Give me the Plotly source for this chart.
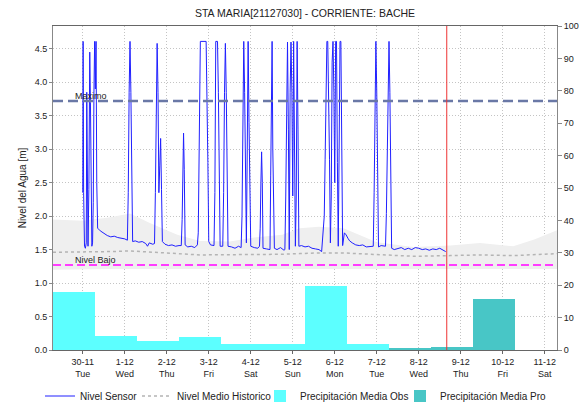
import pandas as pd
import plotly.graph_objects as go

# ---------------- data ----------------
title_text = "STA MARIA[21127030] - CORRIENTE: BACHE"
start_ref = "2021-11-30 00:00"          # origin of the sensor hours
x_range = ["2021-11-29 07:00", "2021-12-11 07:00"]
now_time = "2021-12-08 16:00"

tick_days = ["2021-11-30", "2021-12-01", "2021-12-02", "2021-12-03", "2021-12-04", "2021-12-05",
             "2021-12-06", "2021-12-07", "2021-12-08", "2021-12-09", "2021-12-10", "2021-12-11"]
tick_text = ["30-11<br>Tue", "1-12<br>Wed", "2-12<br>Thu", "3-12<br>Fri", "4-12<br>Sat", "5-12<br>Sun",
             "6-12<br>Mon", "7-12<br>Tue", "8-12<br>Wed", "9-12<br>Thu", "10-12<br>Fri", "11-12<br>Sat"]

# Nivel sensor (hours after 30-11 00:00, metres)
sensor_hours = [0.0, 0.2, 0.5, 1.0, 1.5, 2.0, 2.3, 2.7, 3.0, 3.5, 4.0, 4.4, 4.8, 5.2, 5.6, 6.0, 6.4, 6.8, 7.2, 7.6,
                8.0, 8.5, 10, 12, 14, 16, 18, 20, 22, 24, 25.5, 26.0, 26.5, 27.0, 27.5, 28.0, 28.5, 30, 32, 34,
                36, 37, 38, 40, 41.0, 41.5, 42.0, 42.5, 43.0, 43.5, 44.0, 44.5, 45.0, 45.5, 47, 49, 51, 53, 55,
                56.3, 56.8, 57.2, 57.6, 58.0, 58.5, 60, 62, 64, 65.5, 66.0, 66.5, 67.2, 70.5, 71.0, 71.5, 72.0,
                73, 75.0, 75.5, 76.0, 77.0, 77.5, 78.0, 78.5, 80.0, 80.5, 81.0, 81.5, 82.0, 82.5, 83.0, 85, 87,
                89, 90.5, 91.0, 91.5, 92.0, 92.5, 93.0, 93.5, 94.0, 94.5, 95.0, 95.5, 96.0, 98, 100, 101.0,
                101.4, 101.8, 102.2, 102.6, 103.0, 105, 107.0, 107.4, 107.8, 108.2, 108.6, 109.0, 109.5, 111,
                113, 115, 115.5, 116.0, 116.5, 117.0, 117.5, 118.0, 118.5, 119.0, 119.5, 120.0, 120.5, 121.0,
                121.5, 122.0, 122.5, 123.0, 123.5, 125, 127, 129, 131, 133, 135, 136.5, 137.0, 137.5, 138.0,
                138.5, 139.0, 139.5, 140.0, 140.5, 141.0, 141.5, 142.0, 142.5, 143.0, 143.5, 144.0, 144.5,
                145.0, 145.5, 146.0, 146.5, 147.0, 147.5, 148.0, 148.5, 149.5, 150.5, 151.5, 152.5, 154, 156,
                158, 160, 162, 164, 166.0, 166.5, 167.0, 167.5, 168.0, 168.5, 169.0, 170.5, 172, 173.0, 173.5,
                174.0, 174.5, 175.0, 175.5, 176.0, 176.5, 178, 180, 182, 184, 186, 188, 190, 192, 194, 196,
                198, 200, 202, 204, 206, 207.4]
sensor_level = [2.35, 4.61, 2.35, 1.55, 1.52, 1.60, 3.85, 1.85, 1.55, 2.40, 4.45, 3.70, 1.58, 1.55, 1.60, 2.20,
                3.85, 4.61, 3.90, 4.61, 2.50, 1.82, 1.78, 1.74, 1.71, 1.69, 1.70, 1.68, 1.67, 1.66, 1.64, 2.35,
                3.85, 4.61, 3.85, 2.35, 1.62, 1.63, 1.61, 1.62, 1.59, 1.55, 1.60, 1.58, 1.59, 2.35, 3.85, 4.58,
                3.85, 2.35, 2.75, 3.16, 2.40, 1.62, 1.58, 1.56, 1.57, 1.55, 1.56, 1.56, 1.95, 2.80, 3.24, 2.70,
                1.57, 1.54, 1.55, 1.53, 1.57, 1.75, 3.18, 4.61, 4.61, 3.90, 2.80, 1.62, 1.57, 1.56, 2.35, 4.61,
                4.61, 3.85, 2.35, 1.55, 1.55, 2.35, 3.85, 4.58, 3.85, 2.30, 1.55, 1.54, 1.52, 1.55, 1.53, 2.00,
                3.85, 4.61, 3.85, 2.35, 1.60, 3.00, 4.61, 3.40, 2.35, 1.55, 1.53, 1.52, 1.55, 1.82, 2.50, 2.96,
                2.50, 1.52, 1.51, 1.50, 2.60, 3.73, 4.61, 3.00, 2.30, 1.52, 1.50, 1.53, 1.49, 1.50, 2.30, 3.30,
                4.60, 3.30, 1.50, 3.85, 4.60, 3.85, 2.30, 4.61, 3.00, 1.55, 2.30, 4.61, 3.30, 1.55, 1.56, 1.54,
                1.55, 1.52, 1.51, 1.50, 1.47, 1.65, 1.70, 2.00, 2.85, 3.90, 4.61, 4.61, 3.90, 2.85, 1.60, 2.30,
                4.30, 4.61, 3.85, 2.50, 4.61, 4.61, 2.80, 1.55, 3.00, 4.61, 4.61, 2.35, 1.56, 1.75, 1.72, 1.67,
                1.63, 1.60, 1.57, 1.56, 1.57, 1.54, 1.55, 1.55, 2.35, 3.85, 4.61, 3.85, 2.30, 1.54, 1.56, 1.55,
                1.55, 2.04, 3.09, 4.10, 4.61, 3.85, 2.30, 1.52, 1.50, 1.51, 1.53, 1.50, 1.52, 1.50, 1.53, 1.52,
                1.50, 1.51, 1.49, 1.51, 1.50, 1.52, 1.49, 1.47]

# historic band / mean (hours after 30-11 00:00, metres)
hist_hours = [-17, 0, 15, 27, 38, 54, 67, 84, 98, 114, 124, 135, 149, 158, 168, 189, 210, 227, 246, 258, 271]
hist_upper = [1.95, 1.93, 1.98, 2.04, 1.90, 1.72, 1.63, 1.62, 1.68, 1.72, 1.82, 1.84, 1.82, 1.72, 1.61, 1.54,
              1.56, 1.60, 1.55, 1.65, 1.79]
hist_lower = [1.20, 1.21, 1.21, 1.21, 1.21, 1.21, 1.21, 1.21, 1.21, 1.21, 1.21, 1.21, 1.21, 1.21, 1.21, 1.21,
              1.21, 1.21, 1.21, 1.21, 1.21]
hist_mean = [1.46, 1.46, 1.47, 1.48, 1.46, 1.44, 1.42, 1.42, 1.43, 1.43, 1.44, 1.45, 1.45, 1.44, 1.42, 1.40,
             1.41, 1.42, 1.41, 1.42, 1.44]

nivel_maximo = 3.72
nivel_bajo = 1.27

# daily precipitation (mm), day D covers 07:00 D-1 .. 07:00 D
obs_days = ["2021-11-30", "2021-12-01", "2021-12-02", "2021-12-03", "2021-12-04", "2021-12-05",
            "2021-12-06", "2021-12-07"]
obs_mm = [18.0, 4.3, 2.9, 4.0, 1.9, 2.0, 19.8, 2.0]
pro_days = ["2021-12-08", "2021-12-09", "2021-12-10", "2021-12-11"]
pro_mm = [0.5, 1.0, 15.7, 0.0]

# ---------------- figure ----------------
t0 = pd.Timestamp(start_ref)
sx = [t0 + pd.Timedelta(hours=h) for h in sensor_hours]
hx = [t0 + pd.Timedelta(hours=h) for h in hist_hours]
obs_x = [pd.Timestamp(d) - pd.Timedelta(hours=5) for d in obs_days]
pro_x = [pd.Timestamp(d) - pd.Timedelta(hours=5) for d in pro_days]
day_ms = 86400000

FONT = "Liberation Sans"
W, H = 585, 406
fig = go.Figure()

fig.add_trace(go.Scatter(x=hx, y=hist_lower, mode="lines", line=dict(width=0), showlegend=False,
                         hoverinfo="skip"))
fig.add_trace(go.Scatter(x=hx, y=hist_upper, mode="lines", line=dict(width=0), fill="tonexty",
                         fillcolor="#efefef", showlegend=False, hoverinfo="skip"))
fig.add_trace(go.Scatter(x=sx, y=sensor_level, mode="lines", name="Nivel Sensor", legend="legend",
                         line=dict(color="#2020ff", width=1)))
fig.add_trace(go.Scatter(x=hx, y=hist_mean, mode="lines", name="Nivel Medio Historico", legend="legend2",
                         line=dict(color="#b4b4b4", width=1.5, dash="dot")))
fig.add_trace(go.Bar(x=obs_x, y=obs_mm, width=[day_ms] * len(obs_x), name="Precipitación Media Obs",
                     legend="legend3", marker=dict(color="#5cffff", line=dict(width=0)), yaxis="y2"))
fig.add_trace(go.Bar(x=pro_x, y=pro_mm, width=[day_ms] * len(pro_x), name="Precipitación Media Pro",
                     legend="legend4", marker=dict(color="#48c6c6", line=dict(width=0)), yaxis="y2"))

shapes = [
    dict(type="line", xref="paper", x0=0, x1=1, yref="y", y0=nivel_maximo, y1=nivel_maximo,
         line=dict(color="#6a78a6", width=2.5, dash="10px,5px"), layer="above"),
    dict(type="line", xref="paper", x0=0, x1=1, yref="y", y0=nivel_bajo, y1=nivel_bajo,
         line=dict(color="#ff3cff", width=2, dash="8px,4px"), layer="above"),
    dict(type="line", xref="x", x0=now_time, x1=now_time, yref="paper", y0=0, y1=1,
         line=dict(color="#ee3333", width=1), layer="above"),
]
annotations = [
    dict(text="Maximo", xref="paper", x=0.04, yref="y", y=nivel_maximo, xanchor="left", yanchor="bottom",
         yshift=-2, showarrow=False, font=dict(family=FONT, size=9, color="#222")),
    dict(text="Nivel Bajo", xref="paper", x=0.04, yref="y", y=nivel_bajo, xanchor="left", yanchor="bottom",
         yshift=-2, showarrow=False, font=dict(family=FONT, size=9, color="#222")),
]


def leg(px):
    return dict(orientation="h", xref="container", x=px / W, yref="container", y=1 - 396 / H,
                yanchor="middle", xanchor="left", font=dict(size=10), itemwidth=30,
                bgcolor="rgba(0,0,0,0)")


grid = dict(showgrid=True, gridcolor="#c4c4c4", gridwidth=1, griddash="1px,2px")
fig.update_layout(
    width=W, height=H,
    margin=dict(l=53, r=28, t=26, b=56, autoexpand=False),
    paper_bgcolor="white", plot_bgcolor="white",
    font=dict(family=FONT, size=9, color="#222"),
    title=dict(text=title_text, x=0.5, xref="paper", y=1 - 13 / H, yref="container", yanchor="middle",
               xanchor="center", font=dict(family=FONT, size=10.5, color="#222")),
    barmode="overlay", bargap=0,
    xaxis=dict(type="date", range=x_range, tickvals=tick_days, ticktext=tick_text, ticks="outside",
               ticklen=3, tickcolor="#666", linecolor="#666", showline=True, mirror=True,
               zeroline=False, tickfont=dict(size=9), **grid),
    yaxis=dict(range=[0, 4.84], dtick=0.5, tickformat=".1f", ticks="outside", ticklen=3, tickcolor="#888",
               showline=True, linecolor="#888", zeroline=False,
               title=dict(text="Nivel del Agua [m]", font=dict(size=10), standoff=6), **grid),
    yaxis2=dict(range=[0, 100], dtick=10, overlaying="y", side="right", ticks="outside", ticklen=4,
                tickcolor="#888", showline=True, linecolor="#888", showgrid=False, zeroline=False),
    legend=leg(40), legend2=leg(137), legend3=leg(260), legend4=leg(400),
    shapes=shapes, annotations=annotations,
)

fig.write_html("out.html", config={"displayModeBar": False},
               post_script="document.body.style.margin='0px';")
